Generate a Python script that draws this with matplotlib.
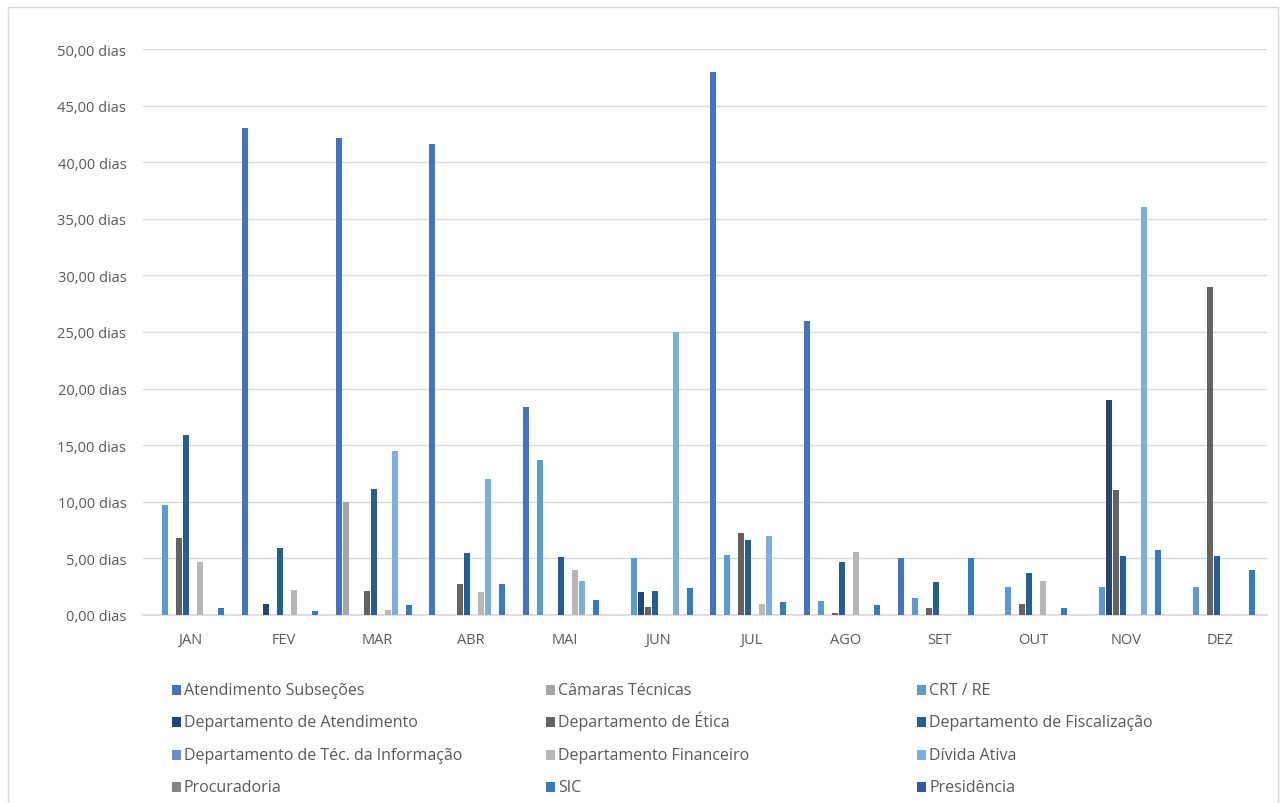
import numpy as np
import matplotlib
matplotlib.use('Agg')
import matplotlib.pyplot as plt
from matplotlib.patches import Rectangle

plt.rcParams['font.family'] = ['Open Sans', 'DejaVu Sans']

# months (x categories)
months = ['JAN', 'FEV', 'MAR', 'ABR', 'MAI', 'JUN', 'JUL', 'AGO', 'SET', 'OUT', 'NOV', 'DEZ']

# series names, in legend order
series_names = [
    'Atendimento Subseções', 'Câmaras Técnicas', 'CRT / RE',
    'Departamento de Atendimento', 'Departamento de Ética', 'Departamento de Fiscalização',
    'Departamento de Téc. da Informação', 'Departamento Financeiro', 'Dívida Ativa',
    'Procuradoria', 'SIC', 'Presidência',
]

# values in days (0 = no bar)
atend_subsecoes = [0, 43.0, 42.1, 41.6, 18.35, 0, 48.0, 26.0, 5.0, 0, 0, 0]
camaras_tecnicas = [0, 0, 10.0, 0, 0, 0, 0, 0, 0, 0, 0, 0]
crt_re = [9.7, 0, 0, 0, 13.7, 5.0, 5.33, 1.24, 1.5, 2.5, 2.5, 2.5]
dep_atendimento = [0, 1.0, 0, 0, 0, 2.0, 0, 0, 0, 0, 19.0, 0]
dep_etica = [6.8, 0, 2.1, 2.75, 0, 0.7, 7.25, 0.2, 0.6, 1.0, 11.0, 29.0]
dep_fiscalizacao = [15.9, 5.9, 11.1, 5.45, 5.15, 2.1, 6.6, 4.7, 2.9, 3.7, 5.25, 5.25]
dep_ti = [0, 0, 0, 0, 0, 0, 0, 0, 0, 0, 0, 0]
dep_financeiro = [4.7, 2.2, 0.4, 2.0, 4.0, 0, 1.0, 5.6, 0, 3.0, 0, 0]
divida_ativa = [0, 0, 14.5, 12.0, 3.0, 25.0, 7.0, 0, 0, 0, 36.0, 0]
procuradoria = [0, 0, 0, 0, 0, 0, 0, 0, 0, 0, 0, 0]
sic = [0.6, 0.35, 0.9, 2.75, 1.33, 2.35, 1.15, 0.85, 5.0, 0.6, 5.75, 4.0]
presidencia = [0, 0, 0, 0, 0, 0, 0, 0, 0, 0, 0, 0]

all_series = [atend_subsecoes, camaras_tecnicas, crt_re, dep_atendimento, dep_etica,
              dep_fiscalizacao, dep_ti, dep_financeiro, divida_ativa, procuradoria,
              sic, presidencia]

colors = ['#4472C4', '#A5A5A5', '#5B9BD5', '#264478', '#636363', '#255E91',
          '#698ED0', '#B7B7B7', '#7CAFDD', '#848484', '#327DC2', '#335AA1']

W, H = 1284, 804
fig = plt.figure(figsize=(W / 100, H / 100), dpi=100)
ax = fig.add_axes([143 / W, 188 / H, 1124 / W, 566 / H])

x = np.arange(len(months))
slot = 0.0747
bar_w = 0.062
n = len(all_series)
for i, (vals, c) in enumerate(zip(all_series, colors)):
    offs = (i - (n - 1) / 2) * slot
    ax.bar(x + offs, vals, width=bar_w, color=c, linewidth=0, zorder=3)

ax.set_xlim(-0.5, len(months) - 0.5)
ax.set_ylim(0, 50)
ax.set_yticks(np.arange(0, 51, 5))
ax.set_yticklabels([f'{v:.2f}'.replace('.', ',') + ' dias' for v in np.arange(0, 51, 5)])
ax.set_xticks(x)
ax.set_xticklabels(months)
ax.tick_params(axis='both', length=0, colors='#595959', labelsize=10.5)
ax.tick_params(axis='y', pad=12)
ax.tick_params(axis='x', pad=12)
ax.grid(axis='y', color='#D9D9D9', linewidth=1, zorder=0)
for s in ['top', 'right', 'left']:
    ax.spines[s].set_visible(False)
ax.spines['bottom'].set_color('#D9D9D9')
ax.spines['bottom'].set_linewidth(1.2)

# legend, drawn by hand in three columns
col_x = [172, 546, 917]
row_y = [691, 723, 756, 788]
for k, (name, c) in enumerate(zip(series_names, colors)):
    cx = col_x[k % 3]
    cy = row_y[k // 3]
    fig.add_artist(Rectangle((cx / W, 1 - (cy + 5) / H), 9 / W, 10 / H,
                             transform=fig.transFigure, color=c, lw=0))
    fig.text((cx + 12) / W, 1 - (cy + 4) / H, name, color='#595959', fontsize=11.5,
             va='baseline')

# chart-area frame
fig.add_artist(Rectangle((8 / W, -0.05), 1270 / W, 1.05 - 8 / H, transform=fig.transFigure,
                         fill=False, edgecolor='#D9D9D9', lw=1))

fig.savefig('out.png', dpi=100)
